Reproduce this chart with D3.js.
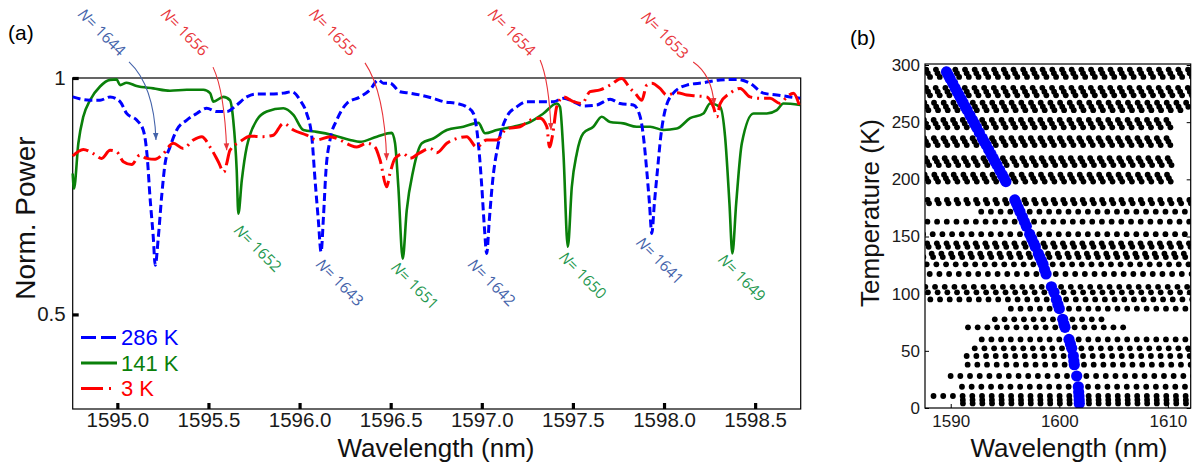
<!DOCTYPE html>
<html>
<head>
<meta charset="utf-8">
<title>Ring resonances</title>
<script src="https://cdnjs.cloudflare.com/ajax/libs/d3/7.8.5/d3.min.js"></script>
<style>
    body { margin: 0; background: #fff; }
    svg { display: block; font-family: "Liberation Sans", Arial, sans-serif; }
</style>
</head>
<body>
<svg id="chart" width="1204" height="469"></svg>
<script>
// ---------- panel (a): transmission spectra ----------
const wl286 = [1594.755, 1594.850, 1594.905, 1594.960, 1595.015, 1595.051, 1595.106, 1595.142, 1595.164, 1595.179, 1595.197, 1595.208, 1595.225, 1595.243, 1595.262, 1595.289, 1595.326, 1595.381, 1595.436, 1595.490, 1595.545, 1595.600, 1595.655, 1595.710, 1595.756, 1595.820, 1595.911, 1595.957, 1596.003, 1596.039, 1596.067, 1596.085, 1596.103, 1596.118, 1596.131, 1596.145, 1596.167, 1596.204, 1596.259, 1596.332, 1596.387, 1596.432, 1596.460, 1596.496, 1596.551, 1596.606, 1596.661, 1596.734, 1596.789, 1596.863, 1596.917, 1596.954, 1596.981, 1597.000, 1597.014, 1597.027, 1597.041, 1597.060, 1597.091, 1597.137, 1597.192, 1597.247, 1597.320, 1597.393, 1597.448, 1597.503, 1597.557, 1597.631, 1597.704, 1597.759, 1597.832, 1597.869, 1597.887, 1597.905, 1597.920, 1597.933, 1597.947, 1597.964, 1597.982, 1598.006, 1598.051, 1598.125, 1598.216, 1598.308, 1598.399, 1598.472, 1598.545, 1598.619, 1598.692, 1598.747];
const pw286 = [0.960, 0.953, 0.953, 0.960, 0.950, 0.925, 0.911, 0.890, 0.833, 0.749, 0.664, 0.604, 0.664, 0.749, 0.819, 0.854, 0.890, 0.911, 0.925, 0.936, 0.929, 0.929, 0.943, 0.960, 0.966, 0.966, 0.968, 0.971, 0.953, 0.925, 0.876, 0.784, 0.699, 0.632, 0.706, 0.805, 0.869, 0.911, 0.946, 0.960, 0.975, 0.996, 0.989, 0.989, 0.971, 0.968, 0.964, 0.957, 0.950, 0.946, 0.939, 0.925, 0.862, 0.770, 0.685, 0.629, 0.699, 0.784, 0.862, 0.918, 0.939, 0.950, 0.950, 0.950, 0.957, 0.950, 0.941, 0.943, 0.955, 0.946, 0.943, 0.918, 0.876, 0.805, 0.735, 0.671, 0.735, 0.805, 0.876, 0.932, 0.968, 0.985, 0.990, 0.996, 0.997, 0.989, 0.968, 0.964, 0.960, 0.957];

const wl141 = [1594.755, 1594.762, 1594.786, 1594.813, 1594.850, 1594.905, 1594.960, 1594.996, 1595.015, 1595.051, 1595.106, 1595.197, 1595.289, 1595.381, 1595.472, 1595.509, 1595.527, 1595.582, 1595.618, 1595.636, 1595.655, 1595.664, 1595.683, 1595.710, 1595.728, 1595.765, 1595.820, 1595.911, 1595.966, 1596.021, 1596.094, 1596.185, 1596.277, 1596.332, 1596.424, 1596.506, 1596.524, 1596.542, 1596.566, 1596.588, 1596.624, 1596.671, 1596.734, 1596.808, 1596.899, 1596.981, 1597.018, 1597.082, 1597.173, 1597.265, 1597.338, 1597.411, 1597.429, 1597.448, 1597.472, 1597.494, 1597.521, 1597.557, 1597.612, 1597.658, 1597.704, 1597.777, 1597.850, 1597.924, 1597.997, 1598.070, 1598.143, 1598.216, 1598.253, 1598.308, 1598.335, 1598.359, 1598.375, 1598.396, 1598.427, 1598.491, 1598.564, 1598.619, 1598.655, 1598.747];
const pw141 = [0.798, 0.766, 0.862, 0.918, 0.953, 0.982, 0.996, 0.997, 0.985, 0.990, 0.983, 0.978, 0.973, 0.975, 0.975, 0.968, 0.950, 0.960, 0.953, 0.911, 0.805, 0.713, 0.784, 0.854, 0.880, 0.911, 0.929, 0.936, 0.922, 0.890, 0.886, 0.879, 0.869, 0.865, 0.876, 0.884, 0.862, 0.770, 0.618, 0.720, 0.805, 0.862, 0.872, 0.890, 0.897, 0.905, 0.883, 0.890, 0.897, 0.907, 0.925, 0.946, 0.939, 0.840, 0.643, 0.770, 0.840, 0.883, 0.897, 0.918, 0.907, 0.904, 0.897, 0.897, 0.890, 0.893, 0.915, 0.925, 0.946, 0.939, 0.876, 0.735, 0.629, 0.735, 0.862, 0.925, 0.925, 0.932, 0.946, 0.943];

const wl3 = [1594.755, 1594.813, 1594.868, 1594.914, 1594.960, 1594.996, 1595.033, 1595.079, 1595.124, 1595.161, 1595.207, 1595.252, 1595.307, 1595.362, 1595.417, 1595.463, 1595.509, 1595.554, 1595.585, 1595.600, 1595.618, 1595.673, 1595.728, 1595.801, 1595.856, 1595.911, 1595.966, 1596.039, 1596.094, 1596.167, 1596.222, 1596.277, 1596.314, 1596.369, 1596.414, 1596.442, 1596.478, 1596.496, 1596.524, 1596.569, 1596.606, 1596.652, 1596.716, 1596.753, 1596.808, 1596.863, 1596.917, 1596.972, 1597.027, 1597.082, 1597.137, 1597.210, 1597.265, 1597.320, 1597.357, 1597.371, 1597.390, 1597.411, 1597.448, 1597.503, 1597.549, 1597.594, 1597.649, 1597.704, 1597.768, 1597.814, 1597.841, 1597.878, 1597.905, 1597.933, 1597.978, 1598.015, 1598.070, 1598.125, 1598.180, 1598.235, 1598.271, 1598.290, 1598.308, 1598.363, 1598.418, 1598.472, 1598.527, 1598.582, 1598.637, 1598.674, 1598.710, 1598.747];
const pw3 = [0.835, 0.849, 0.840, 0.830, 0.847, 0.844, 0.823, 0.817, 0.837, 0.830, 0.828, 0.840, 0.862, 0.851, 0.869, 0.876, 0.854, 0.823, 0.801, 0.819, 0.847, 0.865, 0.877, 0.876, 0.879, 0.904, 0.890, 0.879, 0.869, 0.876, 0.869, 0.858, 0.854, 0.862, 0.854, 0.826, 0.770, 0.798, 0.830, 0.840, 0.830, 0.840, 0.851, 0.842, 0.862, 0.872, 0.876, 0.854, 0.869, 0.869, 0.893, 0.897, 0.911, 0.915, 0.897, 0.854, 0.883, 0.939, 0.960, 0.950, 0.946, 0.971, 0.975, 0.985, 0.999, 0.978, 0.968, 0.953, 0.985, 0.989, 0.978, 0.964, 0.969, 0.964, 0.962, 0.960, 0.939, 0.918, 0.946, 0.968, 0.978, 0.960, 0.957, 0.957, 0.946, 0.960, 0.968, 0.936];

const legendLabels = ["286 K", "141 K", "3 K"];
const xTicksA = [1595.0, 1595.5, 1596.0, 1596.5, 1597.0, 1597.5, 1598.0, 1598.5];
const yTicksA = [0.5, 1];

// mode labels: number, which trace, anchor (wavelength, power)
const modeN = [1644, 1656, 1655, 1654, 1653, 1652, 1643, 1651, 1642, 1650, 1641, 1649];
const modeSet = ["286", "3", "3", "3", "3", "141", "286", "141", "286", "141", "286", "141"];
const modeWl = [1594.779, 1595.234, 1596.047, 1597.029, 1597.869, 1595.635, 1596.085, 1596.497, 1596.919, 1597.419, 1597.842, 1598.292];
const modePw = [1.133, 1.133, 1.133, 1.133, 1.127, 0.676, 0.604, 0.597, 0.604, 0.619, 0.650, 0.614];
// arrows for the upper labels: start and tip (wavelength, power)
const arrowFromWl = [1595.064, 1595.525, 1596.359, 1597.320, 1598.160];
const arrowFromPw = [1.034, 1.023, 1.032, 1.038, 1.034];
const arrowToWl = [1595.212, 1595.600, 1596.478, 1597.380, 1598.275];
const arrowToPw = [0.869, 0.847, 0.826, 0.890, 0.943];

// ---------- panel (b): resonance positions vs temperature ----------
const fsr = 0.893;
const rowT = [296, 292.8, 289.6, 280, 276.7, 273.5, 267, 263.5, 260.5, 252, 248.8, 245.5, 236, 233, 230, 218.5, 215.5, 212.5, 204, 201, 198, 182, 179, 171.7, 163, 152, 144, 141, 135, 132, 125.7, 117.2, 106, 101.2, 95, 86.9, 77.6, 70.6, 60, 52.2, 45.5, 37.9, 28, 18.6, 10.5, 7, 4];
const rowWl = [1589.53, 1589.68, 1589.88, 1590.40, 1590.59, 1590.77, 1591.14, 1591.34, 1591.51, 1592.00, 1592.18, 1592.37, 1592.91, 1593.08, 1593.26, 1593.91, 1594.08, 1594.26, 1594.74, 1594.91, 1595.08, 1595.90, 1596.04, 1596.38, 1596.78, 1597.27, 1597.65, 1597.79, 1598.07, 1598.20, 1598.50, 1598.78, 1599.27, 1599.51, 1599.73, 1600.00, 1600.31, 1600.52, 1600.89, 1601.14, 1601.29, 1601.38, 1601.60, 1601.75, 1601.81, 1601.83, 1601.84];
const rowFrom = [1587, 1587, 1587, 1587, 1587, 1587, 1587, 1587, 1587, 1587, 1587, 1587, 1587, 1587, 1587, 1587, 1587, 1587, 1587, 1587, 1587, 1587, 1587, 1592.7, 1587, 1587, 1587, 1587, 1587, 1587, 1587, 1587, 1587, 1587, 1587, 1595.3, 1593.9, 1590.7, 1592.7, 1591.96, 1591.3, 1591.5, 1589.2, 1590.9, 1588.4, 1590.9, 1590.9];
const rowTo = [1613, 1613, 1613, 1613, 1613, 1613, 1611.9, 1611.9, 1611.9, 1610.6, 1610.6, 1610.6, 1610.6, 1610.6, 1610.6, 1610.6, 1610.6, 1610.6, 1610.6, 1610.6, 1610.6, 1613, 1613, 1613, 1613, 1613, 1613, 1613, 1613, 1613, 1613, 1613, 1613, 1613, 1613, 1611.8, 1604.7, 1605.9, 1613, 1613, 1613, 1613, 1613, 1613, 1613, 1613, 1613];
// tracked mode (blue)
const blueT = [294, 291, 288, 284, 280, 276.7, 273.5, 270, 267, 263.5, 260.5, 256, 252, 248.8, 245.5, 241, 236, 233, 230, 226, 222, 218.5, 215.5, 212.5, 208, 204, 201, 198, 182, 179, 175, 171.7, 167, 163, 159, 152, 148, 144, 141, 135, 132, 128.5, 125.7, 121, 117.2, 106, 101.2, 95, 90.5, 86.9, 77.6, 73.5, 70.6, 60, 56, 52.2, 45.5, 41, 37.9, 28, 18.6, 14, 10.5, 7, 4];
const blueWl = [1589.61, 1589.78, 1589.95, 1590.18, 1590.40, 1590.59, 1590.77, 1590.97, 1591.14, 1591.34, 1591.51, 1591.77, 1592.00, 1592.18, 1592.37, 1592.63, 1592.91, 1593.08, 1593.26, 1593.49, 1593.71, 1593.91, 1594.08, 1594.26, 1594.51, 1594.74, 1594.91, 1595.08, 1595.90, 1596.04, 1596.22, 1596.38, 1596.60, 1596.78, 1596.96, 1597.27, 1597.46, 1597.65, 1597.79, 1598.07, 1598.20, 1598.37, 1598.50, 1598.64, 1598.78, 1599.27, 1599.51, 1599.73, 1599.87, 1600.00, 1600.31, 1600.42, 1600.52, 1600.89, 1601.02, 1601.14, 1601.29, 1601.34, 1601.38, 1601.60, 1601.75, 1601.78, 1601.81, 1601.83, 1601.84];
const xTicksB = [1590, 1600, 1610];
const yTicksB = [0, 50, 100, 150, 200, 250, 300];

const svg = d3.select("#chart");
svg.append("rect").attr("width", 1204).attr("height", 469).attr("fill", "#fff");

const colors = { "286": "#0000ff", "141": "#0a800a", "3": "#ff0000" };
const labelColors = { "286": "#4463aa", "141": "#1f9850", "3": "#e8343a" };

// ---- panel (a) ----
const xA = d3.scaleLinear().domain([1594.755, 1598.75]).range([72.7, 800.7]);
const yA = d3.scaleLinear().domain([0.3, 1.0]).range([409, 78]);

const pa = svg.append("g");
pa.append("rect")
    .attr("x", xA.range()[0]).attr("y", yA.range()[1])
    .attr("width", xA.range()[1] - xA.range()[0])
    .attr("height", yA.range()[0] - yA.range()[1])
    .attr("fill", "none").attr("stroke", "#000").attr("stroke-width", 1.2);

const axA = pa.append("g").attr("transform", `translate(0,${yA.range()[0]})`)
    .call(d3.axisBottom(xA).tickValues(xTicksA).tickFormat(d3.format(".1f"))
        .tickSizeInner(-6).tickSizeOuter(0).tickPadding(3));
const ayA = pa.append("g").attr("transform", `translate(${xA.range()[0]},0)`)
    .call(d3.axisLeft(yA).tickValues(yTicksA).tickFormat(d => d === 1 ? "1" : "0.5")
        .tickSizeInner(-6).tickSizeOuter(0).tickPadding(7));
[axA, ayA].forEach(g => {
    g.select(".domain").remove();
    g.selectAll(".tick line").attr("stroke", "#000").attr("stroke-width", 3.2);
    g.selectAll(".tick text").attr("fill", "#1a1a1a").style("font-size", "20.5px")
        .style("font-family", "'Liberation Sans', Arial, sans-serif");
});

function drawLine(wl, pw, key, dash, width) {
    const line = d3.line()
        .x((d, i) => xA(wl[i]))
        .y((d, i) => yA(pw[i]))
        .curve(d3.curveMonotoneX);
    pa.append("path").datum(wl)
        .attr("d", line)
        .attr("fill", "none")
        .attr("stroke", colors[key])
        .attr("stroke-width", width)
        .attr("stroke-dasharray", dash)
        .attr("stroke-linejoin", "round");
}
drawLine(wl141, pw141, "141", null, 2.6);
drawLine(wl286, pw286, "286", "8,4", 3);
drawLine(wl3, pw3, "3", "18,5,2,5", 3);

// legend
const legKeys = ["286", "141", "3"];
const legDash = ["15,5", null, "22,6,2,6"];
legKeys.forEach((k, i) => {
    const y = 337.5 + i * 25.5;
    pa.append("line").attr("x1", 81).attr("x2", 117).attr("y1", y).attr("y2", y)
        .attr("stroke", colors[k]).attr("stroke-width", 3)
        .attr("stroke-dasharray", legDash[i]);
    pa.append("text").attr("x", 121).attr("y", y + 7.5)
        .attr("fill", colors[k]).style("font-size", "22px")
        .text(legendLabels[i]);
});

// arrows
const defs = svg.append("defs");
["286", "3"].forEach(k => {
    defs.append("marker").attr("id", "arr" + k)
        .attr("viewBox", "0 -5 10 10").attr("refX", 10).attr("refY", 0)
        .attr("markerWidth", 7).attr("markerHeight", 7)
        .attr("markerUnits", "userSpaceOnUse").attr("orient", "auto")
        .append("path").attr("d", "M0,-4L10,0L0,4Z").attr("fill", labelColors[k]);
});
arrowFromWl.forEach((w, i) => {
    const sx = xA(w), sy = yA(arrowFromPw[i]);
    const tx = xA(arrowToWl[i]), ty = yA(arrowToPw[i]);
    const cx = tx - 2, cy = sy + 0.3 * (ty - sy);
    const k = modeSet[i];
    pa.append("path")
        .attr("d", `M${sx},${sy}Q${cx},${cy} ${tx},${ty}`)
        .attr("fill", "none").attr("stroke", labelColors[k]).attr("stroke-width", 1.1)
        .attr("marker-end", `url(#arr${k})`);
});

// mode labels
modeN.forEach((n, i) => {
    const t = pa.append("text")
        .attr("transform", `translate(${xA(modeWl[i])},${yA(modePw[i])}) rotate(45)`)
        .attr("fill", labelColors[modeSet[i]])
        .style("font-family", "'Open Sans', sans-serif")
        .style("font-size", "15.5px");
    t.append("tspan").style("font-style", "italic").text("N");
    t.append("tspan").text("= " + n);
});

pa.append("text").attr("x", 8).attr("y", 40).style("font-size", "21px").text("(a)");
pa.append("text").attr("x", 436).attr("y", 457).attr("text-anchor", "middle")
    .style("font-size", "26px").attr("fill", "#111").text("Wavelength (nm)");
pa.append("text").attr("transform", "translate(35,218) rotate(-90)")
    .attr("text-anchor", "middle").style("font-size", "28px").attr("fill", "#111")
    .text("Norm. Power");

// ---- panel (b) ----
const xB = d3.scaleLinear().domain([1587.63, 1612.1]).range([925, 1190.7]);
const yB = d3.scaleLinear().domain([0, 300]).range([408, 65]);
const pb = svg.append("g");

defs.append("clipPath").attr("id", "clipB").append("rect")
    .attr("x", 925).attr("y", 64).attr("width", 265.7).attr("height", 344);

const dots = [];
rowT.forEach((T, i) => {
    for (let k = -40; k <= 40; k++) {
        const w = rowWl[i] + k * fsr;
        if (w >= rowFrom[i] && w <= rowTo[i]) dots.push({ T, w });
    }
});
const plotB = pb.append("g").attr("clip-path", "url(#clipB)");
plotB.selectAll("circle.blk").data(dots).join("circle").attr("class", "blk")
    .attr("cx", d => xB(d.w)).attr("cy", d => yB(d.T)).attr("r", 2.9).attr("fill", "#000");
plotB.selectAll("circle.blu").data(blueT).join("circle").attr("class", "blu")
    .attr("cx", (d, i) => xB(blueWl[i])).attr("cy", d => yB(d)).attr("r", 5.6).attr("fill", "#0000ff");

pb.append("rect").attr("x", 925).attr("y", 64).attr("width", 265.7).attr("height", 344)
    .attr("fill", "none").attr("stroke", "#000").attr("stroke-width", 1.2);

const ayB = pb.append("g").attr("transform", "translate(925,0)")
    .call(d3.axisLeft(yB).tickValues(yTicksB).tickSizeInner(-4).tickSizeOuter(0).tickPadding(5));
const ayB2 = pb.append("g").attr("transform", "translate(1190.7,0)")
    .call(d3.axisRight(yB).tickValues(yTicksB).tickSizeInner(-4).tickSizeOuter(0).tickFormat(""));
const axB = pb.append("g").attr("transform", "translate(0,408)")
    .call(d3.axisBottom(xB).tickValues(xTicksB).tickFormat(d3.format("d"))
        .tickSizeInner(-4).tickSizeOuter(0).tickPadding(7));
[ayB, ayB2, axB].forEach(g => {
    g.select(".domain").remove();
    g.selectAll(".tick line").attr("stroke", "#000").attr("stroke-width", 1);
    g.selectAll(".tick text").attr("fill", "#1a1a1a").style("font-size", "17px")
        .style("font-family", "'Liberation Sans', Arial, sans-serif");
});

pb.append("text").attr("x", 850).attr("y", 45).style("font-size", "21px").text("(b)");
pb.append("text").attr("x", 1069).attr("y", 457).attr("text-anchor", "middle")
    .style("font-size", "26px").attr("fill", "#111").text("Wavelength (nm)");
pb.append("text").attr("transform", "translate(879,213) rotate(-90)")
    .attr("text-anchor", "middle").style("font-size", "26px").attr("fill", "#111")
    .text("Temperature (K)");
</script>
</body>
</html>
